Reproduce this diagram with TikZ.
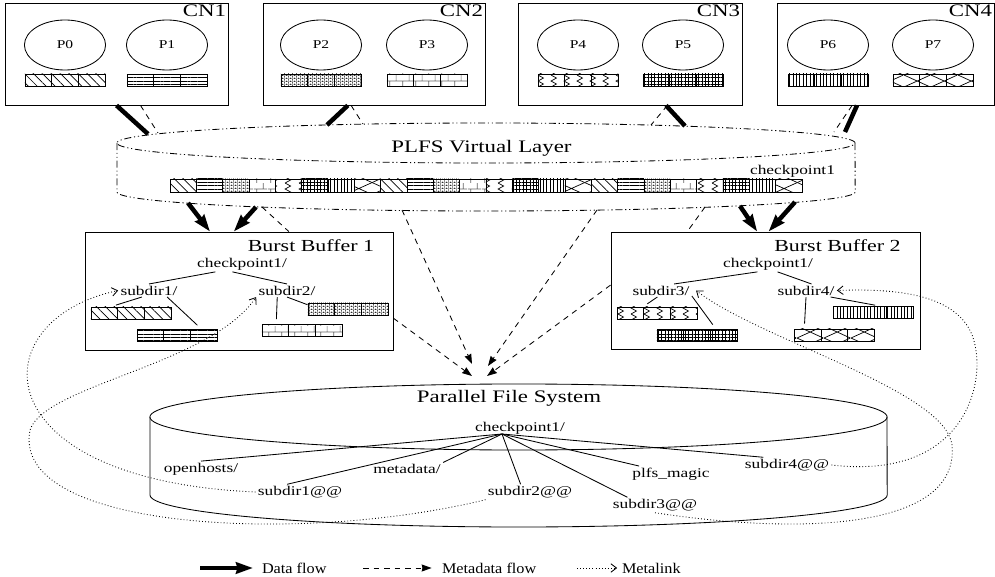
\documentclass[tikz,border=0pt]{standalone}
\usepackage{tikz}
\usepackage{fontspec}
\setmainfont{Liberation Serif}
\usetikzlibrary{shapes.geometric,arrows.meta,patterns,patterns.meta}

\pgfdeclarepatternformonly{zigzag}{\pgfqpoint{0pt}{0pt}}{\pgfqpoint{9.5pt}{8.5pt}}{\pgfqpoint{9.5pt}{8.5pt}}{%
  \pgfsetlinewidth{0.5pt}
  \pgfpathmoveto{\pgfqpoint{3pt}{0pt}}
  \pgfpathlineto{\pgfqpoint{7pt}{2.125pt}}
  \pgfpathlineto{\pgfqpoint{3pt}{4.25pt}}
  \pgfpathlineto{\pgfqpoint{7pt}{6.375pt}}
  \pgfpathlineto{\pgfqpoint{3pt}{8.5pt}}
  \pgfusepath{stroke}}
\pgfdeclarepatternformonly{smallbricks}{\pgfqpoint{0pt}{0pt}}{\pgfqpoint{9.5pt}{8.5pt}}{\pgfqpoint{9.5pt}{8.5pt}}{%
  \pgfsetlinewidth{0.5pt}
  \pgfpathmoveto{\pgfqpoint{0pt}{4.25pt}}\pgfpathlineto{\pgfqpoint{9.5pt}{4.25pt}}
  \pgfpathmoveto{\pgfqpoint{2pt}{0pt}}\pgfpathlineto{\pgfqpoint{2pt}{4.25pt}}
  \pgfpathmoveto{\pgfqpoint{6.75pt}{4.25pt}}\pgfpathlineto{\pgfqpoint{6.75pt}{8.5pt}}
  \pgfusepath{stroke}}
\pgfdeclarepatternformonly{densebricks}{\pgfqpoint{0pt}{0pt}}{\pgfqpoint{3pt}{2pt}}{\pgfqpoint{3pt}{2pt}}{%
  \pgfsetlinewidth{0.55pt}
  \pgfpathmoveto{\pgfqpoint{0pt}{0pt}}\pgfpathlineto{\pgfqpoint{3pt}{0pt}}
  \pgfpathmoveto{\pgfqpoint{0.5pt}{0pt}}\pgfpathlineto{\pgfqpoint{0.5pt}{1pt}}
  \pgfpathmoveto{\pgfqpoint{2pt}{1pt}}\pgfpathlineto{\pgfqpoint{2pt}{2pt}}
  \pgfusepath{stroke}}
\pgfdeclarepatternformonly{xdiam}{\pgfqpoint{0pt}{0pt}}{\pgfqpoint{18.9pt}{8.5pt}}{\pgfqpoint{18.9pt}{8.5pt}}{%
  \pgfsetlinewidth{0.5pt}
  \pgfpathmoveto{\pgfqpoint{0pt}{0pt}}\pgfpathlineto{\pgfqpoint{18.9pt}{8.5pt}}
  \pgfpathmoveto{\pgfqpoint{0pt}{8.5pt}}\pgfpathlineto{\pgfqpoint{18.9pt}{0pt}}
  \pgfusepath{stroke}}

\tikzset{
  pat0/.style={pattern={Lines[angle=-45,distance=4.5pt,line width=0.5pt]}},
  pat1/.style={pattern={Lines[angle=0,distance=2.4pt,line width=0.5pt]}},
  pat2/.style={pattern=densebricks},
  pat3/.style={pattern=smallbricks, pattern color=black!60},
  pat4/.style={pattern=zigzag},
  pat5/.style={pattern={Hatch[distance=2.4pt,line width=0.5pt]}},
  pat6/.style={pattern={Lines[angle=90,distance=2.4pt,line width=0.5pt]}},
  pat7/.style={pattern=xdiam},
}

\begin{document}
\begin{tikzpicture}[x=0.025cm, y=-0.025cm, line width=0.6pt,
    nodebox/.style={draw, inner sep=0pt},
    proc/.style={draw, ellipse, minimum width=1.56cm, minimum height=1.25cm, inner sep=0pt, xscale=1.3, font=\fontsize{8.5}{10}\selectfont},
    cellbar/.style={draw, minimum width=2cm, minimum height=0.3cm, inner sep=0pt,
      path picture={\foreach \j in {1,2} \draw ([xshift=\j*0.6667cm]path picture bounding box.south west) -- ([xshift=\j*0.6667cm]path picture bounding box.north west);}},
    txt/.style={inner sep=1pt, xscale=1.3, font=\fontsize{9.5}{11}\selectfont},
    bigtxt/.style={inner sep=1pt, xscale=1.3, font=\fontsize{12.5}{14}\selectfont},
    keytxt/.style={inner sep=1pt, xscale=1.1, anchor=west, font=\fontsize{10.5}{12}\selectfont},
    dataline/.style={line width=3.2pt},
    dataflow/.style={line width=3.2pt, -{Stealth[length=12pt,width=8pt,inset=1pt]}},
    metaline/.style={dash pattern=on 4pt off 3.5pt},
    metaflow/.style={dash pattern=on 4pt off 3.5pt, -{Stealth[length=7pt,width=5pt,inset=0.5pt]}},
    metalink/.style={dash pattern=on 0.6pt off 1.6pt, -{Straight Barb[length=4pt,width=6pt]}},
    layerline/.style={dash pattern=on 5pt off 2pt on 0.8pt off 2pt on 0.8pt off 2pt},
  ]
  \useasboundingbox (0,0) rectangle (995,577);

  \node[nodebox, minimum width=5.575cm, minimum height=2.55cm] (cn1) at (116.5,54) {};
  \node[nodebox, minimum width=5.55cm, minimum height=2.55cm] (cn2) at (374,54) {};
  \node[nodebox, minimum width=5.6cm, minimum height=2.55cm] (cn3) at (630,54) {};
  \node[nodebox, minimum width=5.425cm, minimum height=2.55cm] (cn4) at (885.5,54) {};
  \node[bigtxt, anchor=north east] (cn1t) at (cn1.north east) {CN1};
  \node[bigtxt, anchor=north east] (cn2t) at (cn2.north east) {CN2};
  \node[bigtxt, anchor=north east] (cn3t) at (cn3.north east) {CN3};
  \node[bigtxt, anchor=north east] (cn4t) at (cn4.north east) {CN4};
  \foreach \i/\x in {0/65,1/167,2/321,3/427,4/578,5/683,6/828,7/933} {
    \node[proc] (p\i) at (\x,45) {P\i};
    \node[cellbar, pat\i] (b\i) at (\x,80) {};
  }

  \draw[layerline] (486,143) ellipse [x radius=9.225cm, y radius=0.5cm];
  \draw[layerline] (117,143) -- (117,192) arc [start angle=180, end angle=360, x radius=9.225cm, y radius=0.475cm] -- (855,143);
  \node[bigtxt] (vl) at (481.5,148) {PLFS Virtual Layer};
  \node[txt] (vlcp) at (792.5,171) {checkpoint1};
  \foreach \i in {0,...,23} {
    \pgfmathtruncatemacro\k{mod(\i,8)}
    \draw[pat\k] (170+\i*26.33,179) rectangle ++(26.33,13);
  }

  \coordinate (vt1) at (148,134);
  \coordinate (vt1d) at (158,133);
  \coordinate (vt2) at (327,125);
  \coordinate (vt2d) at (363,124);
  \coordinate (vt3) at (685,126);
  \coordinate (vt3d) at (651,125);
  \coordinate (vt4) at (845,132);
  \coordinate (vt4d) at (834,132);
  \draw[dataline] (cn1.270) -- (vt1);
  \draw[metaline] (cn1.295) -- (vt1d);
  \draw[dataline] (cn2.243) -- (vt2);
  \draw[metaline] (cn2.246) -- (vt2d);
  \draw[dataline] (cn3.305) -- (vt3);
  \draw[metaline] (cn3.306) -- (vt3d);
  \draw[dataline] (cn4.241) -- (vt4);
  \draw[metaline] (cn4.237) -- (vt4d);

  \node[nodebox, minimum width=7.7cm, minimum height=2.95cm] (bb1) at (239,291) {};
  \node[nodebox, minimum width=7.725cm, minimum height=2.925cm] (bb2) at (765.5,290.5) {};
  \node[bigtxt, font=\fontsize{12}{14}\selectfont] (bb1t) at (311,246) {Burst Buffer 1};
  \node[bigtxt, font=\fontsize{12}{14}\selectfont] (bb2t) at (837.5,246) {Burst Buffer 2};

  \node[txt] (cpa) at (242,264) {checkpoint1/};
  \node[txt] (sub1) at (149,290.5) {subdir1/};
  \node[txt] (sub2) at (287,290.5) {subdir2/};
  \node[cellbar, pat0] (ba0) at (131,313) {};
  \node[cellbar, pat1] (ba1) at (177,335) {};
  \node[cellbar, pat3] (ba3) at (302,330.5) {};
  \node[cellbar, pat2] (ba2) at (348,309) {};
  \draw (cpa.201) -- (sub1.north);
  \draw (cpa.227) -- (sub2.north);
  \draw[shorten >=3.5pt] (sub1.230) -- (ba0.162);
  \draw[shorten >=3.5pt] (sub1.335) -- (ba1.15);
  \draw[shorten >=3.5pt] (sub2.221) -- (ba3.166);
  \draw (sub2.south) -- (ba2.174);

  \node[txt] (cpb) at (768,264) {checkpoint1/};
  \node[txt] (sub3) at (661,290.5) {subdir3/};
  \node[txt] (sub4) at (806,290.5) {subdir4/};
  \node[cellbar, pat4] (ba4) at (657,313) {};
  \node[cellbar, pat5] (ba5) at (697,335) {};
  \node[cellbar, pat7] (ba7) at (834.5,335) {};
  \node[cellbar, pat6] (ba6) at (873.5,312.5) {};
  \draw (cpb.224) -- (sub3.33);
  \draw (cpb.313) -- (sub4.57);
  \draw[shorten >=3.5pt] (sub3.247) -- (ba4.155);
  \draw[shorten >=3.5pt] (sub3.347) -- (ba5.19);
  \draw[shorten >=3.5pt] (sub4.south) -- (ba7.168);
  \draw[shorten >=3.5pt] (sub4.341) -- (ba6.45);

  \coordinate (vb1) at (188,203);
  \coordinate (vb2) at (256,207);
  \coordinate (vb3) at (740,206);
  \coordinate (vb4) at (795,202);
  \coordinate (vbm1) at (262,207);
  \coordinate (vbm2) at (402,210);
  \coordinate (vbm3) at (597,210);
  \coordinate (vbm4) at (705,207);
  \draw[dataflow] (vb1) -- (bb1.116);
  \draw[dataflow] (vb2) -- (bb1.95);
  \draw[dataflow] (vb3) -- (bb2.98);
  \draw[dataflow] (vb4) -- (bb2.87);
  \draw[metaline] (vbm1) -- (bb1.50);
  \draw[metaline] (vbm4) -- (bb2.143);

  \draw (518.5,417) ellipse [x radius=9.2125cm, y radius=0.825cm];
  \draw (150,417) -- (150,495) arc [start angle=180, end angle=360, x radius=9.2125cm, y radius=0.8cm] -- (887,417);
  \node[bigtxt] (pfs) at (509,398) {Parallel File System};
  \node[txt] (pcp) at (520,428) {checkpoint1/};
  \coordinate (fan) at (502,434);
  \node[txt] (open) at (201,469) {openhosts/};
  \node[txt] (meta) at (407,469) {metadata/};
  \node[txt] (sp1) at (300,492) {subdir1@@};
  \node[txt] (sp2) at (530,492) {subdir2@@};
  \node[txt] (magic) at (671,474) {plfs\_magic};
  \node[txt] (sp3) at (655,505) {subdir3@@};
  \node[txt] (sp4) at (787,465) {subdir4@@};
  \draw (fan) -- (open.north);
  \draw (fan) -- (meta.north east);
  \draw (fan) -- (sp1.142);
  \draw (fan) -- (sp2.133);
  \draw (fan) -- (magic.162);
  \draw (fan) -- (sp3.160);
  \draw (fan) -- (sp4.157);

  \coordinate (pin1) at (472,376);
  \coordinate (pin2) at (472,364);
  \coordinate (pin3) at (488,366);
  \coordinate (pin4) at (487,376);
  \draw[metaflow] (bb1.350) -- (pin1);
  \draw[metaflow] (vbm2) -- (pin2);
  \draw[metaflow] (vbm3) -- (pin3);
  \draw[metaflow] (bb2.178) -- (pin4);

  \draw[metalink] (sp1.west) .. controls (-20,480) and (-20,320) .. (sub1.west);
  \draw[metalink] (sp2.south west) .. controls (300,545) and (10,530) .. (30,430) .. controls (45,385) and (210,365) .. (sub2.south west);
  \draw[metalink] (sp3.south) .. controls (800,535) and (960,530) .. (952,445) .. controls (945,390) and (760,340) .. ([xshift=3pt]sub3.east);
  \draw[metalink] (sp4.east) .. controls (960,480) and (985,390) .. (975,345) .. controls (965,295) and (900,288) .. (sub4.east);

  \coordinate (k1) at (200,568);
  \coordinate (k2) at (363,568);
  \coordinate (k3) at (577,568);
  \node[keytxt] (k1t) at (260,568) {Data flow};
  \node[keytxt] (k2t) at (440,568) {Metadata flow};
  \node[keytxt] (k3t) at (620,568) {Metalink};
  \draw[dataflow, shorten >=5pt] (k1) -- (k1t.west);
  \draw[metaflow, shorten >=6pt] (k2) -- (k2t.west);
  \draw[metalink, shorten >=2pt] (k3) -- (k3t.west);
\end{tikzpicture}
\end{document}
